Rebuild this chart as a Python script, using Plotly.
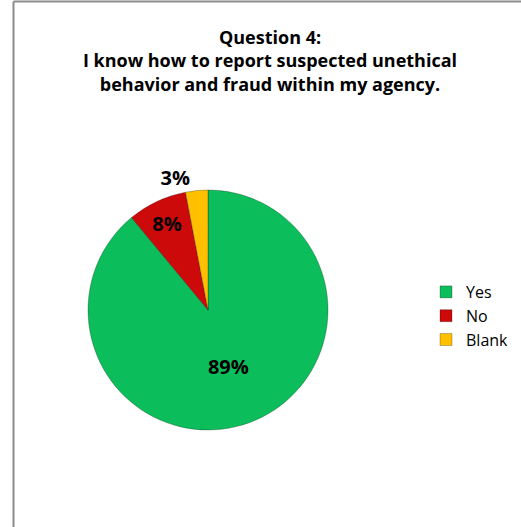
import plotly.graph_objects as go

labels = ["Yes", "No", "Blank"]
values = [89, 8, 3]
colors = ["#0CBD5B", "#CC0A0A", "#FFC000"]
title_text = "<b>Question 4:<br>I know how to report suspected unethical<br>behavior and fraud within my agency.</b>"

W, H = 521, 527
cx, cy, r = 208, 310, 120

fig = go.Figure(go.Pie(
    labels=labels,
    values=values,
    sort=False,
    direction="clockwise",
    rotation=0,
    marker=dict(colors=colors, line=dict(color="rgba(0,0,0,0.25)", width=1)),
    texttemplate="<b>%{percent:.0%}</b>",
    textposition=["inside", "inside", "outside"],
    insidetextorientation="horizontal",
    textfont=dict(family="Open Sans", size=20, color="black"),
    domain=dict(x=[(cx - r) / W, (cx + r) / W], y=[(H - cy - r) / H, (H - cy + r) / H]),
    hoverinfo="label+percent",
))

fig.update_layout(
    width=W, height=H,
    margin=dict(l=0, r=0, t=0, b=0),
    paper_bgcolor="white",
    plot_bgcolor="white",
    uniformtext=dict(minsize=20, mode="show"),
    title=dict(text=title_text, x=270 / W, xanchor="center", y=1 - 44 / H, yanchor="top",
               font=dict(family="Open Sans", size=18, color="black")),
    legend=dict(x=426 / W, y=1 - 316 / H, xanchor="left", yanchor="middle",
                font=dict(family="Open Sans", size=16, color="black"),
                itemwidth=30, bgcolor="rgba(0,0,0,0)"),
    shapes=[
        dict(type="line", xref="paper", yref="paper", x0=13.5 / W, x1=13.5 / W, y0=0, y1=1 - 1.5 / H,
             line=dict(color="#8C8C8C", width=2)),
        dict(type="line", xref="paper", yref="paper", x0=13.5 / W, x1=1, y0=1 - 1.5 / H, y1=1 - 1.5 / H,
             line=dict(color="#8C8C8C", width=2)),
    ],
)

fig.write_html("out.html", config={"displayModeBar": False},
               post_script="document.body.style.margin='0';document.body.style.overflow='hidden';")
